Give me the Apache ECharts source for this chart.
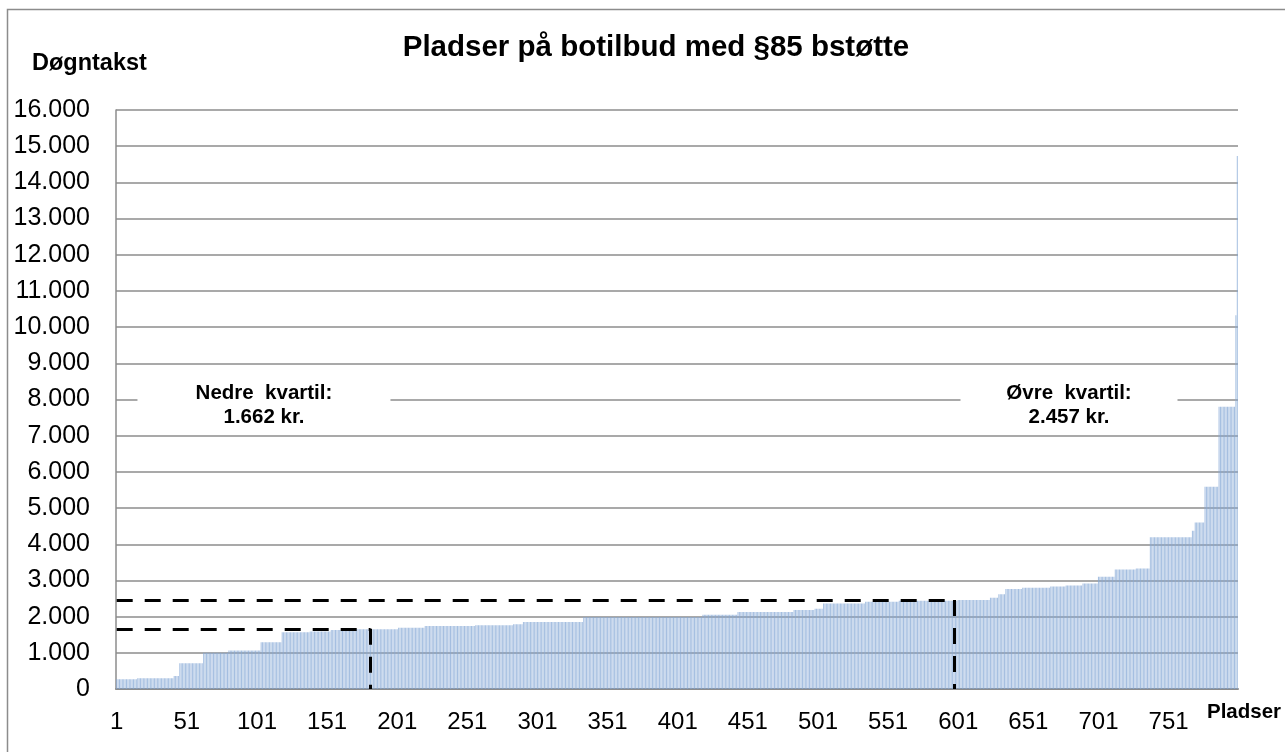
<!DOCTYPE html>
<html><head><meta charset="utf-8">
<script src="https://cdn.jsdelivr.net/npm/echarts@6/dist/echarts.min.js"></script>
<style>html,body{margin:0;padding:0;background:#fff}#c{width:1285px;height:752px}</style>
</head><body><div id="c"></div>
<script>
// Sorted daily rates (Døgntakst), given as runs of equal-looking bars
const runValues = [270, 296, 360, 710, 1000, 1065, 1290, 1566, 1590, 1630, 1650, 1690, 1740, 1765, 1790, 1850, 1990, 2050, 2130, 2180, 2220, 2360, 2410, 2440, 2460, 2525, 2615, 2760, 2800, 2830, 2860, 2915, 3100, 3300, 3330, 4190, 4370, 4600, 5590, 7800, 10330, 14730];
const runCounts = [15, 26, 4, 17, 18, 23, 15, 20, 15, 9, 39, 19, 36, 27, 7, 43, 85, 25, 40, 15, 6, 30, 24, 42, 23, 6, 5, 12, 20, 11, 12, 11, 12, 15, 10, 30, 2, 7, 10, 12, 1, 1];
const quartileNames = ['Nedre  kvartil:', 'Øvre  kvartil:'];
const quartileValues = [1662, 2457];
const quartilePlaces = ['182', '598'];
const yMin = 0, yMax = 16000, yStep = 1000;
const titleText = 'Pladser på botilbud med §85 bstøtte';
const yName = 'Døgntakst';
const xName = 'Pladser';

const values = [];
runValues.forEach((v, i) => { for (let k = 0; k < runCounts[i]; k++) values.push(v); });
const categories = values.map((_, i) => String(i + 1));
const fmt = v => String(v).replace(/\B(?=(\d{3})+(?!\d))/g, '.');
const FONT = '"Liberation Sans", Arial, sans-serif';

// layout for the quartile text boxes (category, y-value anchor, box size)
const boxLayout = [
  { cat: '106', y: 7850, size: [253, 50] },
  { cat: '680', y: 7850, size: [217, 50] }
];

const chart = echarts.init(document.getElementById('c'), null, { renderer: 'canvas' });
chart.setOption({
  animation: false,
  backgroundColor: '#fff',
  title: {
    text: titleText, left: 651, top: 28, textAlign: 'center',
    textStyle: { fontFamily: FONT, fontWeight: 'bold', fontSize: 29.5, color: '#000' }
  },
  graphic: [
    { type: 'rect', shape: { x: 7.5, y: 9.5, width: 1400, height: 900 }, style: { fill: 'none', stroke: '#8c8c8c', lineWidth: 1.5 }, silent: true, z: -10 },
    { type: 'text', left: 32, top: 52, style: { text: yName, fontFamily: FONT, fontWeight: 'bold', fontSize: 23.5, fill: '#000' } },
    { type: 'text', left: 1207, top: 702, style: { text: xName, fontFamily: FONT, fontWeight: 'bold', fontSize: 20.5, fill: '#000' } }
  ],
  grid: { left: 116, right: 47, top: 110, bottom: 63, containLabel: false },
  xAxis: {
    type: 'category', data: categories, boundaryGap: true,
    axisLine: { show: true, lineStyle: { color: '#8c8c8c', width: 2 } },
    axisTick: { show: false },
    axisLabel: { interval: 49, margin: 21, fontFamily: FONT, fontSize: 24, color: '#000' },
    splitLine: { show: false }
  },
  yAxis: {
    type: 'value', min: yMin, max: yMax, interval: yStep,
    axisLine: { show: true, lineStyle: { color: '#8c8c8c', width: 1.5 } },
    axisTick: { show: false },
    axisLabel: { formatter: fmt, margin: 26, fontFamily: FONT, fontSize: 25, color: '#000' },
    splitLine: { show: true, lineStyle: { color: '#8c8c8c', width: 1.5 } }
  },
  series: [{
    type: 'bar', data: values, barCategoryGap: '30%',
    itemStyle: { color: '#86a8d6', opacity: 0.75 },
    silent: true,
    markLine: {
      silent: true, symbol: 'none', animation: false,
      lineStyle: { color: '#000', width: 3, type: [16, 12] },
      label: { show: false },
      data: quartileValues.flatMap((q, i) => [
        [{ coord: ['1', q] }, { coord: [quartilePlaces[i], q] }],
        [{ coord: [quartilePlaces[i], q] }, { coord: [quartilePlaces[i], 0] }]
      ])
    },
    markPoint: {
      silent: true, animation: false, z: 10,
      symbol: 'rect',
      data: quartileNames.map((n, i) => ({
        coord: [boxLayout[i].cat, boxLayout[i].y],
        symbolSize: boxLayout[i].size,
        itemStyle: { color: '#fff' },
        label: {
          show: true, position: 'inside',
          formatter: n + '\n' + fmt(quartileValues[i]) + ' kr.',
          fontFamily: FONT, fontWeight: 'bold', fontSize: 20.5, lineHeight: 24, color: '#000'
        }
      }))
    }
  }]
});
</script></body></html>
